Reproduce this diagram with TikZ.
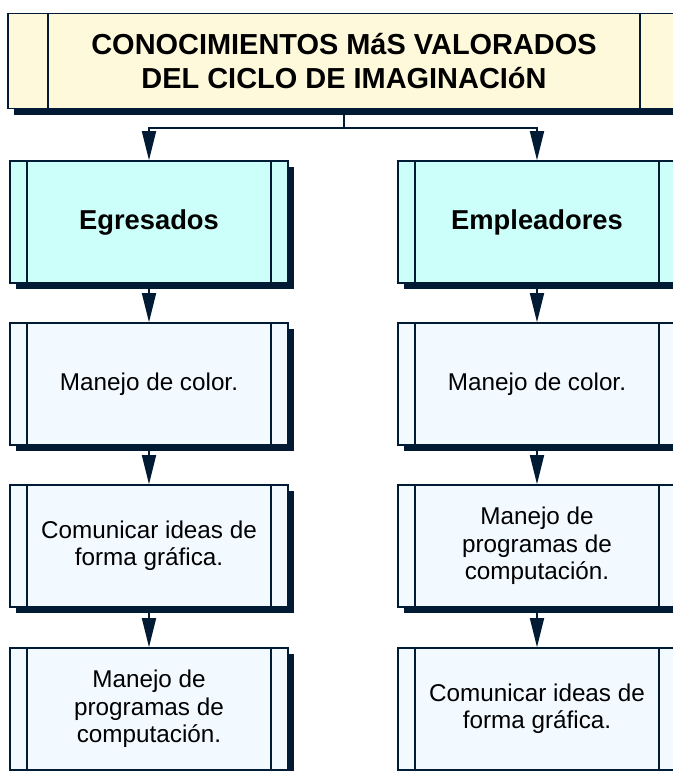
\documentclass[tikz,border=0pt]{standalone}
\usepackage{fontspec}
\setmainfont{Liberation Sans}
\usetikzlibrary{arrows.meta,shadows}
\definecolor{marino}{HTML}{021B35}
\definecolor{crema}{HTML}{FFF9DC}
\definecolor{celeste}{HTML}{CCFFF9}
\definecolor{hielo}{HTML}{F2F9FF}
\tikzset{
  lados/.style={path picture={
    \draw[marino,line width=1pt]
      ([xshift=#1]path picture bounding box.north west) -- ([xshift=#1]path picture bounding box.south west)
      ([xshift=-#1]path picture bounding box.north east) -- ([xshift=-#1]path picture bounding box.south east);}},
  caja/.style={rectangle,draw=marino,line width=1pt,fill=hielo,
    minimum width=208.5pt,minimum height=91.5pt,align=center,
    font=\fontsize{18.2}{20.5}\selectfont,lados=12.75pt,
    drop shadow={shadow xshift=4.5pt,shadow yshift=-4.5pt,fill=marino,opacity=1}},
  grupo/.style={caja,fill=celeste,font=\fontsize{20.5}{23}\selectfont\bfseries},
  titulo/.style={caja,fill=crema,minimum width=504pt,minimum height=71.25pt,
    lados=30pt,font=\fontsize{21.7}{25}\selectfont\bfseries},
  flecha/.style={draw=marino,line width=1.5pt,-{Triangle[length=22pt,width=10.5pt]}}
}
\begin{document}
\begin{tikzpicture}[x=0.75pt,y=-0.75pt]
  \useasboundingbox (0,0) rectangle (673,771);
  \clip (0,0) rectangle (673,771);
  \node[titulo] (tit) at (344,61) {CONOCIMIENTOS MáS VALORADOS\\DEL CICLO DE IMAGINACIóN};
  % columna egresados
  \node[grupo] (e1) at (149,222) {Egresados};
  \node[caja] (e2) at (149,384) {Manejo de color.};
  \node[caja] (e3) at (149,546) {Comunicar ideas de\\forma gráfica.};
  \node[caja] (e4) at (149,709) {Manejo de\\programas de\\computación.};
  % columna empleadores
  \node[grupo] (p1) at (537,222) {Empleadores};
  \node[caja] (p2) at (537,384) {Manejo de color.};
  \node[caja] (p3) at (537,546) {Manejo de\\programas de\\computación.};
  \node[caja] (p4) at (537,709) {Comunicar ideas de\\forma gráfica.};
  \coordinate (rama) at (344,128);
  \draw[marino,line width=1.5pt] (tit.south) -- (rama);
  \draw[flecha] (rama) -| (e1.north);
  \draw[flecha] (rama) -| (p1.north);
  \draw[flecha] (e1) -- (e2);
  \draw[flecha] (e2) -- (e3);
  \draw[flecha] (e3) -- (e4);
  \draw[flecha] (p1) -- (p2);
  \draw[flecha] (p2) -- (p3);
  \draw[flecha] (p3) -- (p4);
\end{tikzpicture}
\end{document}
